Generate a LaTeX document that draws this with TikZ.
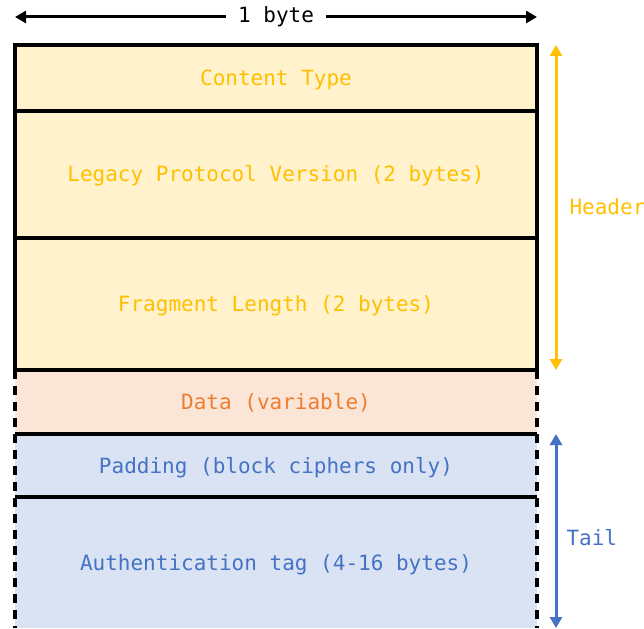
\documentclass[tikz,border=0pt]{standalone}
\usepackage{fontspec}
\setmonofont{DejaVu Sans Mono}
\usetikzlibrary{arrows.meta}
\definecolor{hdrfill}{HTML}{FFF2CC}
\definecolor{hdrtext}{HTML}{FFC000}
\definecolor{datfill}{HTML}{FBE5D6}
\definecolor{dattext}{HTML}{ED7D31}
\definecolor{tailfill}{HTML}{DAE3F3}
\definecolor{tailtext}{HTML}{4472C4}
\begin{document}
\begin{tikzpicture}[x=1pt,y=-1pt,
  font=\ttfamily\fontsize{21}{25}\selectfont,
  field/.style={rectangle, minimum width=522pt, inner sep=0pt, outer sep=0pt,
    text height=15pt, text depth=0pt, anchor=north west},
  border/.style={line width=3.2pt, draw=black},
  dashborder/.style={line width=3.2pt, draw=black, dash pattern=on 9pt off 7pt},
  span/.style={line width=3pt, {Triangle[length=11pt,width=12pt]}-{Triangle[length=11pt,width=12pt]}}]
\useasboundingbox (0,0) rectangle (644,628);

% record fields
\node[field, fill=hdrfill, text=hdrtext, minimum height=66pt]  (ct)   at (15,45)  {Content Type};
\node[field, fill=hdrfill, text=hdrtext, minimum height=127pt] (ver)  at (15,111) {Legacy Protocol Version (2 bytes)};
\node[field, fill=hdrfill, text=hdrtext, minimum height=132pt] (len)  at (15,238) {Fragment Length (2 bytes)};
\node[field, fill=datfill, text=dattext, minimum height=64pt]  (data) at (15,370) {Data (variable)};
\node[field, fill=tailfill, text=tailtext, minimum height=63pt] (pad) at (15,434) {Padding (block ciphers only)};
\node[field, fill=tailfill, text=tailtext, minimum height=131pt] (tag) at (15,497) {Authentication tag (4{-}16 bytes)};

% header outlines
\draw[border] (ct.north west) rectangle (ct.south east);
\draw[border] (ver.north west) rectangle (ver.south east);
\draw[border] (len.north west) rectangle (len.south east);

% variable-size parts with dashed sides
\draw[dashborder] (data.north west) -- (tag.south west);
\draw[dashborder] (data.north east) -- (tag.south east);
\draw[border] (data.south west) -- (data.south east);
\draw[border] (pad.south west) -- (pad.south east);

% width marker
\coordinate (wl) at ([yshift=28pt]ct.north west);
\coordinate (wr) at ([yshift=28pt]ct.north east);
\draw[span, black] (wl) -- node[fill=white, inner xsep=12pt, text=black] (wlbl) {1 byte} (wr);

% header span
\draw[span, draw=hdrtext, fill=hdrtext] ([xshift=19pt]ct.north east) -- ([xshift=19pt]len.south east);
\node[anchor=west, text=hdrtext] (hdrlbl) at (566,207) {Header};

% tail span
\draw[span, draw=tailtext, fill=tailtext] ([xshift=19pt]pad.north east) -- ([xshift=19pt]tag.south east);
\node[anchor=west, text=tailtext] (taillbl) at (563,538) {Tail};
\end{tikzpicture}
\end{document}
